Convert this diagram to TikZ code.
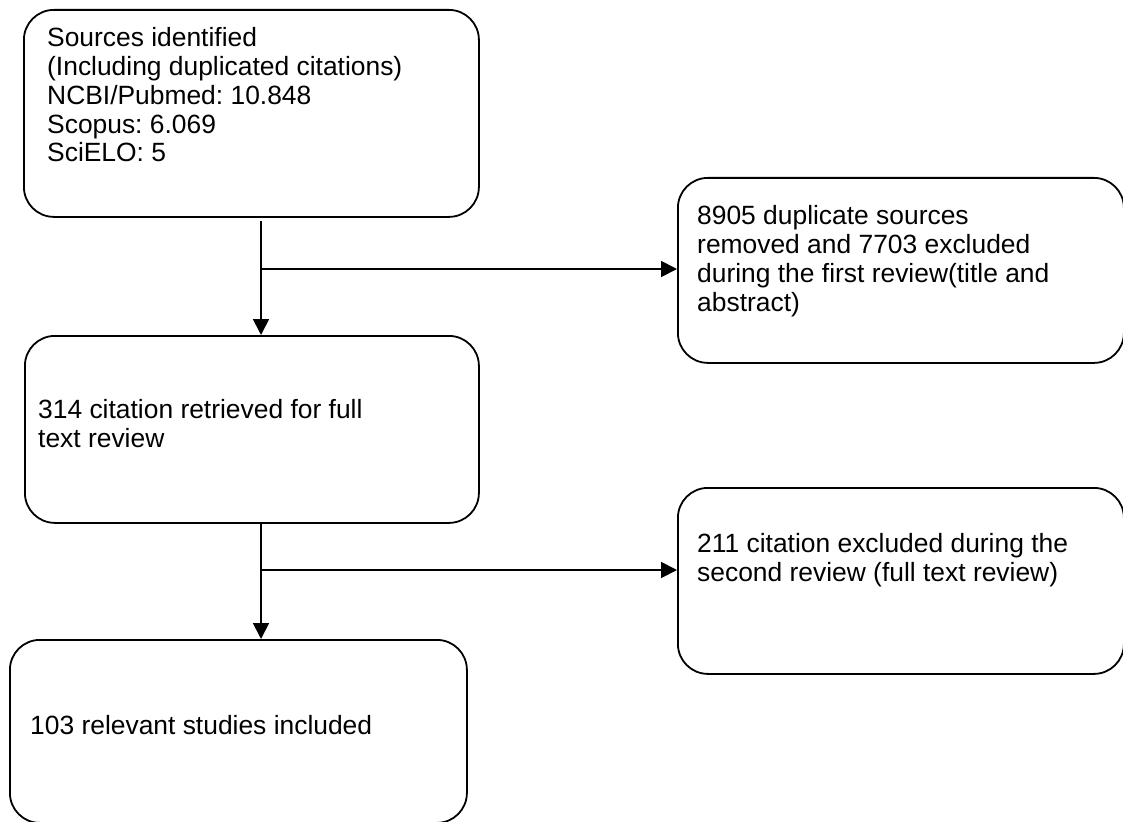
\documentclass[tikz,border=0pt]{standalone}
\usepackage{fontspec}
\setmainfont{Liberation Sans}
\usetikzlibrary{arrows.meta}
\frenchspacing
\begin{document}
\begin{tikzpicture}[x=1pt,y=-1pt,
  box/.style={draw, line width=1.8pt, rounded corners=30pt, inner sep=0pt, anchor=north west},
  txt/.style={anchor=base west, align=left, inner sep=0pt, font=\fontsize{26.4}{28.75}\selectfont},
  conn/.style={line width=1.8pt, -{Triangle[length=16pt,width=16pt]}},
  link/.style={line width=1.8pt}]
\useasboundingbox (0,0) rectangle (1123,821);
% boxes
\node[box, minimum width=455pt, minimum height=207pt] (b1) at (23,9) {};
\node[box, minimum width=446pt, minimum height=185pt] (b2) at (677,177) {};
\node[box, minimum width=454pt, minimum height=187pt] (b3) at (24,335) {};
\node[box, minimum width=446pt, minimum height=186pt] (b4) at (677,487) {};
\node[box, minimum width=457pt, minimum height=183pt] (b5) at (9,639) {};
% texts (anchor = baseline of the last line)
\node[txt] (t1) at (47,162) {Sources identified\\(Including duplicated citations)\\NCBI/Pubmed: 10.848\\Scopus: 6.069\\SciELO: 5};
\node[txt] (t2) at (697,311) {8905 duplicate sources\\removed and 7703 excluded\\during the first review(title and\\abstract)};
\node[txt] (t3) at (38,447) {314 citation retrieved for full\\text review};
\node[txt] (t4) at (697,581) {211 citation excluded during the\\second review (full text review)};
\node[txt] (t5) at (30,734) {103 relevant studies included};
% connectors
\coordinate (j1) at (261,269);
\coordinate (j2) at (261,570);
\draw[conn, shorten <=3pt] (j1 |- b1.south) -- (j1 |- b3.north);
\draw[conn] (j1) -- (j1 -| b2.west);
\draw[conn] (j2 |- b3.south) -- (j2 |- b5.north);
\draw[conn] (j2) -- (j2 -| b4.west);
\end{tikzpicture}
\end{document}
